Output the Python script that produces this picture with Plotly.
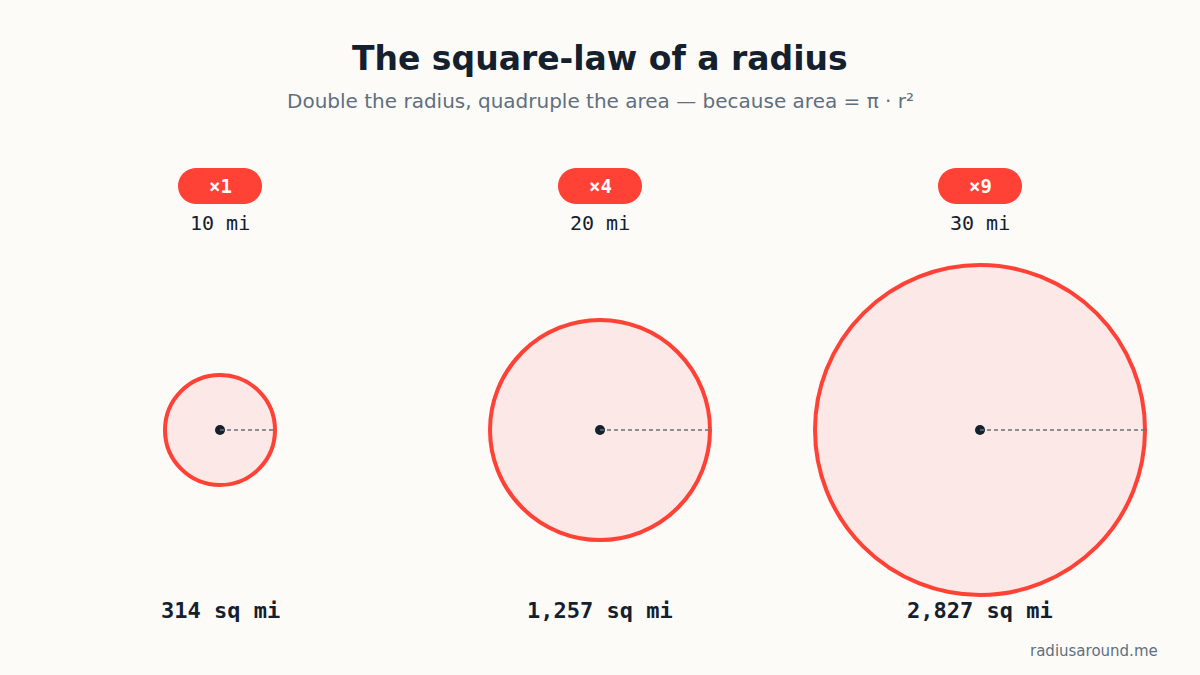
import math
import plotly.graph_objects as go

radius_mi = [10, 20, 30]
multipliers = ["×1", "×4", "×9"]
area_labels = ["314 sq mi", "1,257 sq mi", "2,827 sq mi"]

BG = "#fcfbf8"
RED = "#ff4136"
FILL = "#fce8e6"
INK = "#14202e"
GRAY = "#5f6f7f"

centers_x = [220, 600, 980]
center_y = 430
PX_PER_MI = 5.5


def pill_path(cx, cy, w, h):
    rr = h / 2
    pts = []
    for i in range(21):  # right half-circle
        a = -math.pi / 2 + math.pi * i / 20
        pts.append((cx + w / 2 - rr + rr * math.cos(a), cy + rr * math.sin(a)))
    for i in range(21):  # left half-circle
        a = math.pi / 2 + math.pi * i / 20
        pts.append((cx - w / 2 + rr + rr * math.cos(a), cy + rr * math.sin(a)))
    return "M" + " L".join(f"{x:.2f},{y:.2f}" for x, y in pts) + " Z"


fig = go.Figure()
shapes = []
annotations = []

for cx, r_mi, mult, area in zip(centers_x, radius_mi, multipliers, area_labels):
    r = r_mi * PX_PER_MI
    shapes.append(dict(type="circle", x0=cx - r, x1=cx + r, y0=center_y - r, y1=center_y + r,
                       fillcolor=FILL, line=dict(color=RED, width=4), layer="below"))
    shapes.append(dict(type="line", x0=cx, x1=cx + r, y0=center_y, y1=center_y,
                       line=dict(color="#6b6f7a", width=1.5, dash="4px,3px")))
    shapes.append(dict(type="path", path=pill_path(cx, 186, 84, 36), fillcolor=RED,
                       line=dict(width=0), layer="below"))
    annotations.append(dict(x=cx, y=186, text=f"<b>{mult}</b>", showarrow=False,
                            font=dict(family="DejaVu Sans Mono", size=19, color="white")))
    annotations.append(dict(x=cx, y=223, text=f"{r_mi} mi", showarrow=False,
                            font=dict(family="DejaVu Sans Mono", size=20, color=INK)))
    annotations.append(dict(x=cx, y=610, text=f"<b>{area}</b>", showarrow=False,
                            font=dict(family="DejaVu Sans Mono", size=22, color=INK)))

fig.add_trace(go.Scatter(x=centers_x, y=[center_y] * 3, mode="markers",
                         marker=dict(color=INK, size=10), hoverinfo="skip"))

annotations += [
    dict(x=600, y=58, text="<b>The square-law of a radius</b>", showarrow=False,
         font=dict(family="DejaVu Sans", size=33, color=INK)),
    dict(x=600, y=101, text="Double the radius, quadruple the area — because area = π · r²",
         showarrow=False, font=dict(family="DejaVu Sans", size=20, color=GRAY)),
    dict(x=1160, y=651, text="radiusaround.me", showarrow=False, xanchor="right",
         font=dict(family="DejaVu Sans", size=15, color=GRAY)),
]

fig.update_layout(
    width=1200, height=675, margin=dict(l=0, r=0, t=0, b=0),
    paper_bgcolor=BG, plot_bgcolor=BG, showlegend=False,
    xaxis=dict(range=[0, 1200], visible=False, fixedrange=True),
    yaxis=dict(range=[675, 0], visible=False, fixedrange=True),
    shapes=shapes, annotations=annotations,
)

fig.write_html("out.html", config={"displayModeBar": False},
               post_script="document.body.style.margin='0';document.body.style.background='%s';" % BG)
